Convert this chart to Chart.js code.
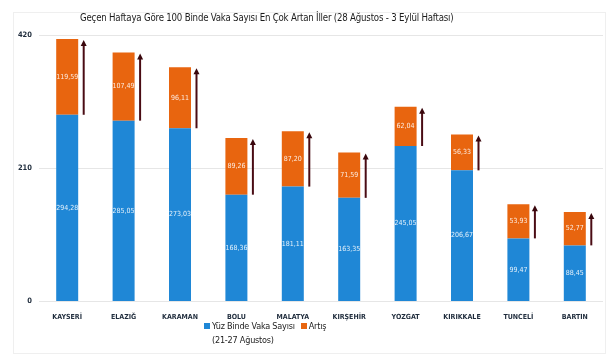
<!DOCTYPE html>
<html>
<head>
<meta charset="utf-8">
<script src="https://cdn.jsdelivr.net/npm/chart.js@4.4.1/dist/chart.umd.min.js"></script>
<style>
  html, body { margin: 0; padding: 0; background: #fff; }
  #wrap { position: relative; width: 615px; height: 361px; }
  #frame {
    position: absolute; left: 13px; top: 12px; width: 593px; height: 342px;
    border: 1px solid #efefef; box-sizing: border-box;
  }
  #myChart { position: absolute; left: 0; top: 0; }
  #title {
    position: absolute; left: 80px; top: 12px;
    font: 9.6px "Liberation Sans Narrow", "DejaVu Sans Condensed", "Open Sans", sans-serif;
    letter-spacing: -0.2px;
    color: #1c1c1c; white-space: nowrap;
  }
  #legend {
    position: absolute; left: 204px; top: 319px;
    font: 9px "Liberation Sans Narrow", "DejaVu Sans Condensed", "Open Sans", sans-serif;
    letter-spacing: -0.2px;
    color: #222; display: flex; gap: 6px;
  }
  #legend .item { display: flex; align-items: flex-start; line-height: 14px; }
  #legend .box { width: 6px; height: 6px; margin: 4px 2px 0 0; }
</style>
</head>
<body>
<div id="wrap">
  <div id="frame"></div>
  <canvas id="myChart" width="615" height="361"></canvas>
  <div id="title">Geçen Haftaya Göre 100 Binde Vaka Sayısı En Çok Artan İller (28 Ağustos - 3 Eylül Haftası)</div>
  <div id="legend"></div>
</div>
<script>
// values
const cities = ["KAYSERİ", "ELAZIĞ", "KARAMAN", "BOLU", "MALATYA", "KIRŞEHİR", "YOZGAT", "KIRIKKALE", "TUNCELİ", "BARTIN"];
const cases = [294.28, 285.05, 273.03, 168.36, 181.11, 163.35, 245.05, 206.67, 99.47, 88.45];
const increase = [119.59, 107.49, 96.11, 89.26, 87.20, 71.59, 62.04, 56.33, 53.93, 52.77];
const yTicks = [0, 210, 420];
const seriesNames = [["Yüz Binde Vaka Sayısı", "(21-27 Ağustos)"], ["Artış"]];

const FONT = "'Liberation Sans Narrow', 'DejaVu Sans Condensed', 'Open Sans', sans-serif";
const blue = "#1f87d6";
const orange = "#e8650f";
const tickColor = "#1f2c3c";

// white numbers in the middle of each segment
const valueLabels = {
  id: "valueLabels",
  afterDatasetsDraw(chart) {
    const ctx = chart.ctx;
    ctx.save();
    ctx.font = "7px " + FONT;
    ctx.fillStyle = "rgba(255,255,255,0.88)";
    ctx.textAlign = "center";
    ctx.textBaseline = "middle";
    chart.data.datasets.forEach((ds, di) => {
      chart.getDatasetMeta(di).data.forEach((bar, i) => {
        const txt = ds.data[i].toFixed(2).replace(".", ",");
        ctx.fillText(txt, bar.x, (bar.y + bar.base) / 2);
      });
    });
    ctx.restore();
  },
};

// dark arrows beside each bar, spanning the increase
const arrows = {
  id: "arrows",
  afterDatasetsDraw(chart) {
    const ctx = chart.ctx;
    const y = chart.scales.y;
    ctx.save();
    ctx.strokeStyle = "#4a0c14";
    ctx.fillStyle = "#3a070d";
    ctx.lineWidth = 2;
    chart.getDatasetMeta(0).data.forEach((bar, i) => {
      const x = bar.x + bar.width / 2 + 5.5;
      const yLow = y.getPixelForValue(cases[i]);
      const yHigh = y.getPixelForValue(cases[i] + increase[i]) + 1;
      ctx.beginPath();
      ctx.moveTo(x, yLow);
      ctx.lineTo(x, yHigh + 4);
      ctx.stroke();
      ctx.beginPath();
      ctx.moveTo(x, yHigh);
      ctx.lineTo(x - 3, yHigh + 6);
      ctx.lineTo(x + 3, yHigh + 6);
      ctx.closePath();
      ctx.fill();
    });
    ctx.restore();
  },
};

const ctx = document.getElementById("myChart").getContext("2d");

const myChart = new Chart(ctx, {
  type: "bar",
  data: {
    labels: cities,
    datasets: [
      { label: seriesNames[0], data: cases, backgroundColor: blue },
      { label: seriesNames[1], data: increase, backgroundColor: orange },
    ],
  },
  options: {
    responsive: false,
    animation: false,
    categoryPercentage: 1,
    barPercentage: 0.39,
    layout: { padding: { top: 35, right: 12, left: 17, bottom: 0 } },
    plugins: {
      legend: { display: false },
      title: { display: false },
      tooltip: { enabled: false },
    },
    scales: {
      x: {
        stacked: true,
        grid: { display: false },
        border: { display: false },
        ticks: {
          color: tickColor,
          padding: 3,
          maxRotation: 0,
          autoSkip: false,
          font: { size: 7, weight: "bold", family: FONT },
        },
        afterFit: (axis) => { axis.height = 59.5; },
      },
      y: {
        stacked: true,
        min: 0,
        max: 420,
        afterBuildTicks: (axis) => { axis.ticks = yTicks.map((v) => ({ value: v })); },
        grid: { color: "#e6e6e6", drawTicks: false },
        border: { display: false },
        ticks: {
          color: tickColor,
          padding: 7,
          font: { size: 7.5, weight: "bold", family: FONT },
        },
        afterFit: (axis) => { axis.width = 22; },
      },
    },
  },
  plugins: [valueLabels, arrows],
});

// html legend built from the datasets
const legendEl = document.getElementById("legend");
myChart.data.datasets.forEach((ds) => {
  const item = document.createElement("div");
  item.className = "item";
  const box = document.createElement("span");
  box.className = "box";
  box.style.background = ds.backgroundColor;
  const text = document.createElement("span");
  text.innerHTML = [].concat(ds.label).join("<br>");
  item.appendChild(box);
  item.appendChild(text);
  legendEl.appendChild(item);
});
</script>
</body>
</html>
